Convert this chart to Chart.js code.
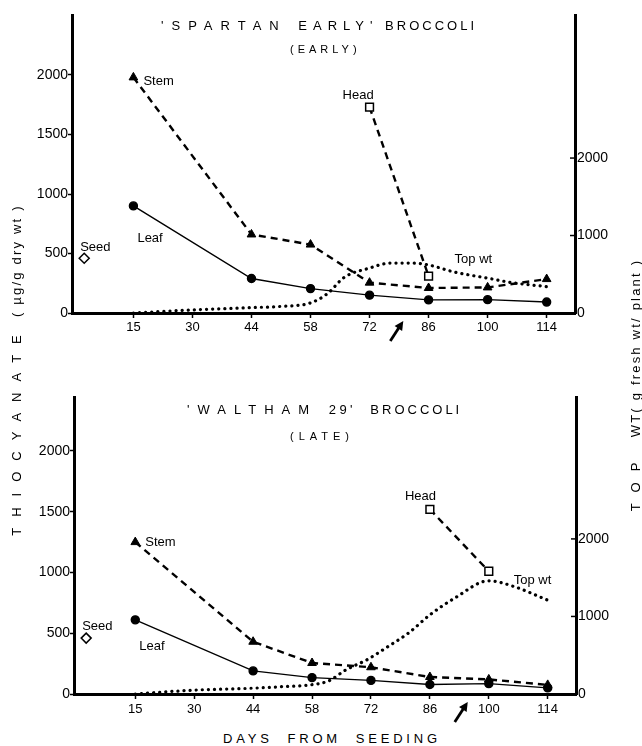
<!DOCTYPE html>
<html>
<head>
    <title>Thiocyanate in broccoli</title>
    <script src="https://cdn.jsdelivr.net/npm/chart.js"></script>
    <style>
        body { margin: 0; background: #fff; font-family: 'Liberation Sans', Arial, sans-serif; color: #000; }
        #page { position: relative; width: 642px; height: 746px; overflow: hidden; }
        canvas { position: absolute; left: 0; }
        .txt { position: absolute; white-space: pre; line-height: 16px; color: #000; }
        .vert { position: absolute; white-space: pre; line-height: 16px; text-align: center; transform: rotate(-90deg); font-size: 13px; color: #000; }
    </style>
</head>
<body>
<div id="page">
    <canvas id="early" width="642" height="352" style="top:0"></canvas>
    <canvas id="late" width="642" height="350" style="top:380px"></canvas>

    <div class="txt" style="left:161px;top:18px;font-size:13px"><span style="letter-spacing:8px">'SPARTAN </span><span style="letter-spacing:6px">EARLY'</span><span style="letter-spacing:3px"> BROCCOLI</span></div>
    <div class="txt" style="left:290px;top:41px;font-size:11px;letter-spacing:4px">(EARLY)</div>

    <div class="txt" style="left:187px;top:402px;font-size:13px"><span style="letter-spacing:8px">'WALTHAM </span><span style="letter-spacing:3.5px">29'  </span><span style="letter-spacing:3px">BROCCOLI</span></div>
    <div class="txt" style="left:290px;top:428px;font-size:11px;letter-spacing:5px">(LATE)</div>

    <div class="vert" style="left:-183px;top:362px;width:400px"><span style="letter-spacing:11px">THIOCYANATE</span>  <span style="letter-spacing:2.2px">( µg/g dry wt )</span></div>
    <div class="vert" style="left:436px;top:377px;width:400px"><span style="letter-spacing:11px">TOP </span><span style="letter-spacing:2.2px">WT( g fresh wt/ plant )</span></div>
    <div class="txt" style="left:223px;top:731px;font-size:13px;letter-spacing:3.8px">DAYS  FROM  SEEDING</div>
</div>
<script>
    // sampling days shown as evenly spaced ticks
    const days = [15, 30, 44, 58, 72, 86, 100, 114];
    const sampleDays = [15, 44, 58, 72, 86, 100, 114];
    const leftTicks = [0, 500, 1000, 1500, 2000];
    const rightTicks = [0, 1000, 2000];

    // 'Spartan Early'
    const earlyStem = [1980, 660, 575, 255, 210, 215, 285];
    const earlyLeaf = [900, 290, 205, 150, 110, 112, 92];
    const earlyHeadDays = [72, 86];
    const earlyHead = [1730, 310];
    const earlySeed = 460;
    const earlyTopDays = [15, 30, 44, 51, 58, 62, 66, 72, 77, 82, 86, 92, 100, 106, 114];
    const earlyTopWt = [0, 40, 70, 85, 130, 250, 460, 580, 645, 645, 620, 530, 450, 390, 340];

    // 'Waltham 29'
    const lateStem = [1250, 430, 255, 220, 140, 120, 75];
    const lateLeaf = [610, 190, 135, 112, 78, 85, 50];
    const lateHeadDays = [86, 100];
    const lateHead = [1520, 1010];
    const lateSeed = 460;
    const lateTopDays = [15, 30, 44, 51, 58, 62, 66, 71, 76, 81, 86, 92, 100, 106, 114];
    const lateTopWt = [0, 50, 75, 95, 120, 170, 310, 440, 610, 790, 1020, 1240, 1460, 1385, 1210];

    const seedDay = 2.5;

    // the axis spaces the sampling days evenly, so map a day onto its tick slot
    function slot(d) {
        if (d <= days[0]) return (d - days[0]) / (days[1] - days[0]);
        for (let i = 1; i < days.length; i++) {
            if (d <= days[i]) return i - 1 + (d - days[i - 1]) / (days[i] - days[i - 1]);
        }
        return days.length - 1 + (d - days[days.length - 1]) / 14;
    }
    const pts = (xs, ys) => xs.map((d, i) => ({ x: slot(d), y: ys[i] }));

    const FONT = 'Liberation Sans, Arial, sans-serif';

    function extras(notes, arrowDay) {
        return {
            id: 'extras',
            afterDraw(chart) {
                const ctx = chart.ctx;
                const y2 = chart.scales.y2, x = chart.scales.x;
                ctx.save();
                // inward tick marks on the right axis
                ctx.strokeStyle = '#000';
                ctx.lineWidth = 1.5;
                rightTicks.forEach(v => {
                    const py = y2.getPixelForValue(v);
                    ctx.beginPath();
                    ctx.moveTo(y2.left - 5, py);
                    ctx.lineTo(y2.left, py);
                    ctx.stroke();
                });
                // series labels next to their points
                ctx.fillStyle = '#000';
                ctx.font = '13px ' + FONT;
                ctx.textBaseline = 'middle';
                notes.forEach(n => {
                    const p = chart.getDatasetMeta(n.ds).data[n.i];
                    ctx.fillText(n.text, p.x + n.dx, p.y + n.dy);
                });
                // harvest arrow under the day axis
                const tx = x.getPixelForValue(slot(arrowDay));
                const ty = x.top + 8;
                const bx = tx - 13, by = ty + 20;
                const ang = Math.atan2(ty - by, tx - bx);
                ctx.lineWidth = 2.8;
                ctx.beginPath();
                ctx.moveTo(bx, by);
                ctx.lineTo(tx - 6 * Math.cos(ang), ty - 6 * Math.sin(ang));
                ctx.stroke();
                ctx.beginPath();
                ctx.moveTo(tx, ty);
                ctx.lineTo(tx - 9 * Math.cos(ang) + 4.5 * Math.sin(ang), ty - 9 * Math.sin(ang) - 4.5 * Math.cos(ang));
                ctx.lineTo(tx - 9 * Math.cos(ang) - 4.5 * Math.sin(ang), ty - 9 * Math.sin(ang) + 4.5 * Math.cos(ang));
                ctx.closePath();
                ctx.fill();
                ctx.restore();
            }
        };
    }

    function makeChart(id, d) {
        const ctx = document.getElementById(id).getContext('2d');
        const H = ctx.canvas.height;
        return new Chart(ctx, {
            type: 'line',
            data: {
                datasets: [{
                    label: 'Top wt',
                    data: pts(d.topDays, d.topWt),
                    yAxisID: 'y2',
                    borderColor: '#000',
                    borderWidth: 3.2,
                    borderDash: [0.1, 6],
                    borderCapStyle: 'round',
                    cubicInterpolationMode: 'monotone',
                    pointRadius: 0,
                    fill: false,
                }, {
                    label: 'Leaf',
                    data: pts(sampleDays, d.leaf),
                    yAxisID: 'y',
                    borderColor: '#000',
                    borderWidth: 1.4,
                    pointStyle: 'circle',
                    pointRadius: 4,
                    pointBackgroundColor: '#000',
                    pointBorderColor: '#000',
                    fill: false,
                }, {
                    label: 'Stem',
                    data: pts(sampleDays, d.stem),
                    yAxisID: 'y',
                    borderColor: '#000',
                    borderWidth: 2.4,
                    borderDash: [7, 5],
                    pointStyle: 'triangle',
                    pointRadius: 5,
                    pointBackgroundColor: '#000',
                    pointBorderColor: '#000',
                    pointBorderWidth: 1,
                    fill: false,
                }, {
                    label: 'Head',
                    data: pts(d.headDays, d.head),
                    yAxisID: 'y',
                    borderColor: '#000',
                    borderWidth: 2.4,
                    borderDash: [7, 5],
                    pointStyle: 'rect',
                    pointRadius: 5.5,
                    pointBackgroundColor: '#fff',
                    pointBorderColor: '#000',
                    pointBorderWidth: 1.5,
                    fill: false,
                }, {
                    label: 'Seed',
                    data: [{ x: slot(seedDay), y: d.seed }],
                    yAxisID: 'y',
                    showLine: false,
                    pointStyle: 'rectRot',
                    pointRadius: 5,
                    pointBackgroundColor: '#fff',
                    pointBorderColor: '#000',
                    pointBorderWidth: 1.5,
                }]
            },
            options: {
                responsive: false,
                animation: false,
                layout: { padding: { top: d.top, left: 0, right: 0, bottom: 0 } },
                plugins: { legend: { display: false }, tooltip: { enabled: false } },
                scales: {
                    x: {
                        type: 'linear',
                        min: -1.04,
                        max: 7.48,
                        afterBuildTicks: s => { s.ticks = days.map((v, i) => ({ value: i })); },
                        ticks: {
                            callback: (v, i) => String(days[i]),
                            color: '#000',
                            font: { family: FONT, size: 13 },
                            padding: d.xPad,
                            maxRotation: 0,
                            autoSkip: false,
                        },
                        grid: { drawOnChartArea: false, color: '#000', tickLength: 5, tickWidth: 1.5 },
                        border: { color: '#000', width: 3 },
                        afterFit: s => { s.height = H - d.bottom; },
                    },
                    y: {
                        position: 'left',
                        min: 0,
                        max: d.leftMax,
                        afterBuildTicks: s => { s.ticks = leftTicks.map(v => ({ value: v })); },
                        ticks: { callback: v => String(v), color: '#000', font: { family: FONT, size: 14 }, padding: 0 },
                        grid: { drawOnChartArea: false, color: '#000', tickLength: 4, tickWidth: 1.5 },
                        border: { color: '#000', width: 3 },
                        afterFit: s => { s.width = d.left; },
                    },
                    y2: {
                        position: 'right',
                        min: 0,
                        max: d.rightMax,
                        afterBuildTicks: s => { s.ticks = rightTicks.map(v => ({ value: v })); },
                        ticks: { callback: v => String(v), color: '#000', font: { family: FONT, size: 14 }, padding: 2 },
                        grid: { drawOnChartArea: false, drawTicks: false },
                        border: { color: '#000', width: 3 },
                        afterFit: s => { s.width = 642 - d.right; },
                    }
                }
            },
            plugins: [extras(d.notes, d.arrowDay)]
        });
    }

    makeChart('early', {
        stem: earlyStem, leaf: earlyLeaf, headDays: earlyHeadDays, head: earlyHead,
        seed: earlySeed, topDays: earlyTopDays, topWt: earlyTopWt,
        top: 15.5, bottom: 313, left: 72, right: 575, leftMax: 2500, rightMax: 3840, xPad: 2,
        arrowDay: 80,
        notes: [
            { text: 'Stem', ds: 2, i: 0, dx: 10, dy: 4 },
            { text: 'Leaf', ds: 1, i: 0, dx: 4, dy: 33 },
            { text: 'Seed', ds: 4, i: 0, dx: -4, dy: -11 },
            { text: 'Head', ds: 3, i: 0, dx: -27, dy: -12 },
            { text: 'Top wt', ds: 0, i: 10, dx: 26, dy: -6 },
        ]
    });

    makeChart('late', {
        stem: lateStem, leaf: lateLeaf, headDays: lateHeadDays, head: lateHead,
        seed: lateSeed, topDays: lateTopDays, topWt: lateTopWt,
        top: 17, bottom: 314, left: 74, right: 576, leftMax: 2444, rightMax: 3830, xPad: 3,
        arrowDay: 95,
        notes: [
            { text: 'Stem', ds: 2, i: 0, dx: 10, dy: 0 },
            { text: 'Leaf', ds: 1, i: 0, dx: 4, dy: 27 },
            { text: 'Seed', ds: 4, i: 0, dx: -4, dy: -12 },
            { text: 'Head', ds: 3, i: 0, dx: -25, dy: -13 },
            { text: 'Top wt', ds: 0, i: 12, dx: 25, dy: 0 },
        ]
    });
</script>
</body>
</html>
